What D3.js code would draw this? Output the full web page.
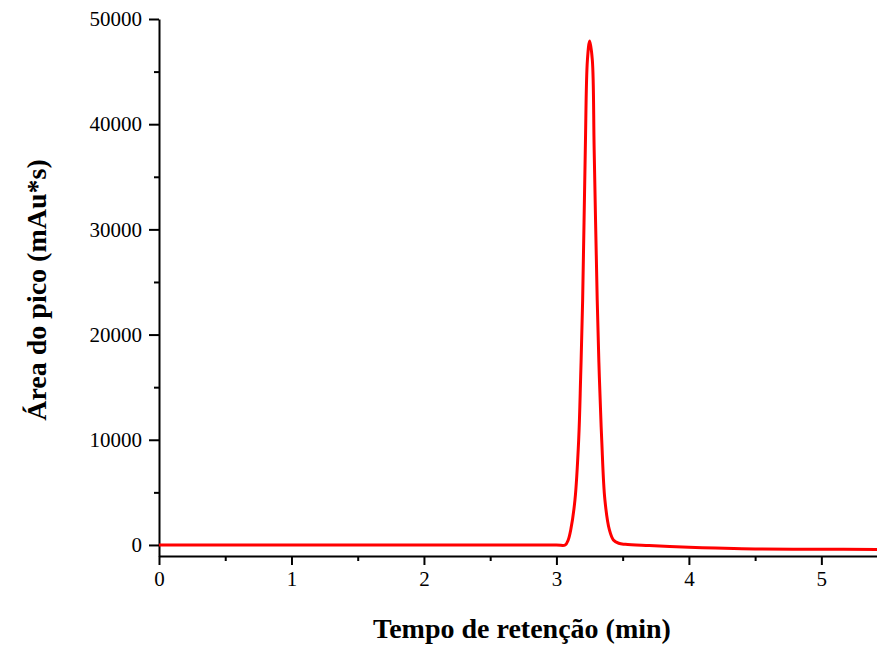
<!DOCTYPE html>
<html>
<head>
<meta charset="utf-8">
<script src="https://cdn.jsdelivr.net/npm/d3@7"></script>
<style>
  body { margin: 0; background: #fff; }
  svg { display: block; }
  .tick text { font-family: "Liberation Serif", "Times New Roman", serif; font-size: 21px; fill: #000; }
  .axis-title { font-family: "Liberation Serif", "Times New Roman", serif; font-size: 28px; font-weight: bold; fill: #000; }
</style>
</head>
<body>
<div id="chart"></div>
<script>
// Dimensiones
const width = 877;
const height = 646;
const margin = {top: 19, right: 0, bottom: 90, left: 159};

const tiempo = [0, 1, 2, 3, 3.066, 3.089, 3.108, 3.140, 3.168, 3.183, 3.198, 3.218, 3.234, 3.251,
                3.271, 3.285, 3.308, 3.324, 3.342, 3.366, 3.400, 3.43, 3.47, 3.52, 3.7,
                4.0, 4.2, 4.5, 5.0, 5.42];
const area = [0, 0, 0, 0, 0, 475, 1426, 4278, 9981, 16000, 23289, 37548, 46103, 47909,
              46103, 37548, 23289, 16000, 9981, 4278, 1426, 475, 160, 60, -60,
              -220, -290, -380, -410, -430];

const xTicks = [0, 1, 2, 3, 4, 5];
const yTicks = [0, 10000, 20000, 30000, 40000, 50000];

const svg = d3.select("#chart").append("svg")
    .attr("width", width)
    .attr("height", height);

const x = d3.scaleLinear()
    .domain([0, 5.42])
    .range([margin.left, width - margin.right]);

const y = d3.scaleLinear()
    .domain([-1050, 50000])
    .range([height - margin.bottom, margin.top]);

// Eje X
svg.append("g")
    .attr("transform", `translate(0,${height - margin.bottom})`)
    .call(d3.axisBottom(x).tickValues(xTicks).tickFormat(d3.format("d")).tickSize(9).tickSizeOuter(0).tickPadding(6));

// ticks menores X
svg.append("g")
    .attr("transform", `translate(0,${height - margin.bottom})`)
    .call(d3.axisBottom(x).tickValues([0.5, 1.5, 2.5, 3.5, 4.5]).tickFormat("").tickSize(5).tickSizeOuter(0))
    .select(".domain").remove();

// Eje Y
svg.append("g")
    .attr("transform", `translate(${margin.left},0)`)
    .call(d3.axisLeft(y).tickValues(yTicks).tickFormat(d3.format("d")).tickSize(10).tickSizeOuter(0).tickPadding(7));

svg.append("g")
    .attr("transform", `translate(${margin.left},0)`)
    .call(d3.axisLeft(y).tickValues([5000, 15000, 25000, 35000, 45000]).tickFormat("").tickSize(5).tickSizeOuter(0))
    .select(".domain").remove();

svg.selectAll(".domain").attr("stroke", "#000").attr("stroke-width", 2);
svg.selectAll(".tick line").attr("stroke", "#000").attr("stroke-width", 2);

// Curva
const line = d3.line()
    .x((d, i) => x(tiempo[i]))
    .y(d => y(d))
    .curve(d3.curveCatmullRom.alpha(0.5));

svg.append("path")
    .datum(area)
    .attr("fill", "none")
    .attr("stroke", "#ff0000")
    .attr("stroke-width", 3)
    .attr("stroke-linejoin", "round")
    .attr("d", line);

// Títulos
svg.append("text")
    .attr("class", "axis-title")
    .attr("x", 522)
    .attr("y", 638)
    .attr("text-anchor", "middle")
    .text("Tempo de retenção (min)");

svg.append("text")
    .attr("class", "axis-title")
    .attr("transform", "translate(46,290) rotate(-90)")
    .attr("text-anchor", "middle")
    .text("Área do pico (mAu*s)");
</script>
</body>
</html>
